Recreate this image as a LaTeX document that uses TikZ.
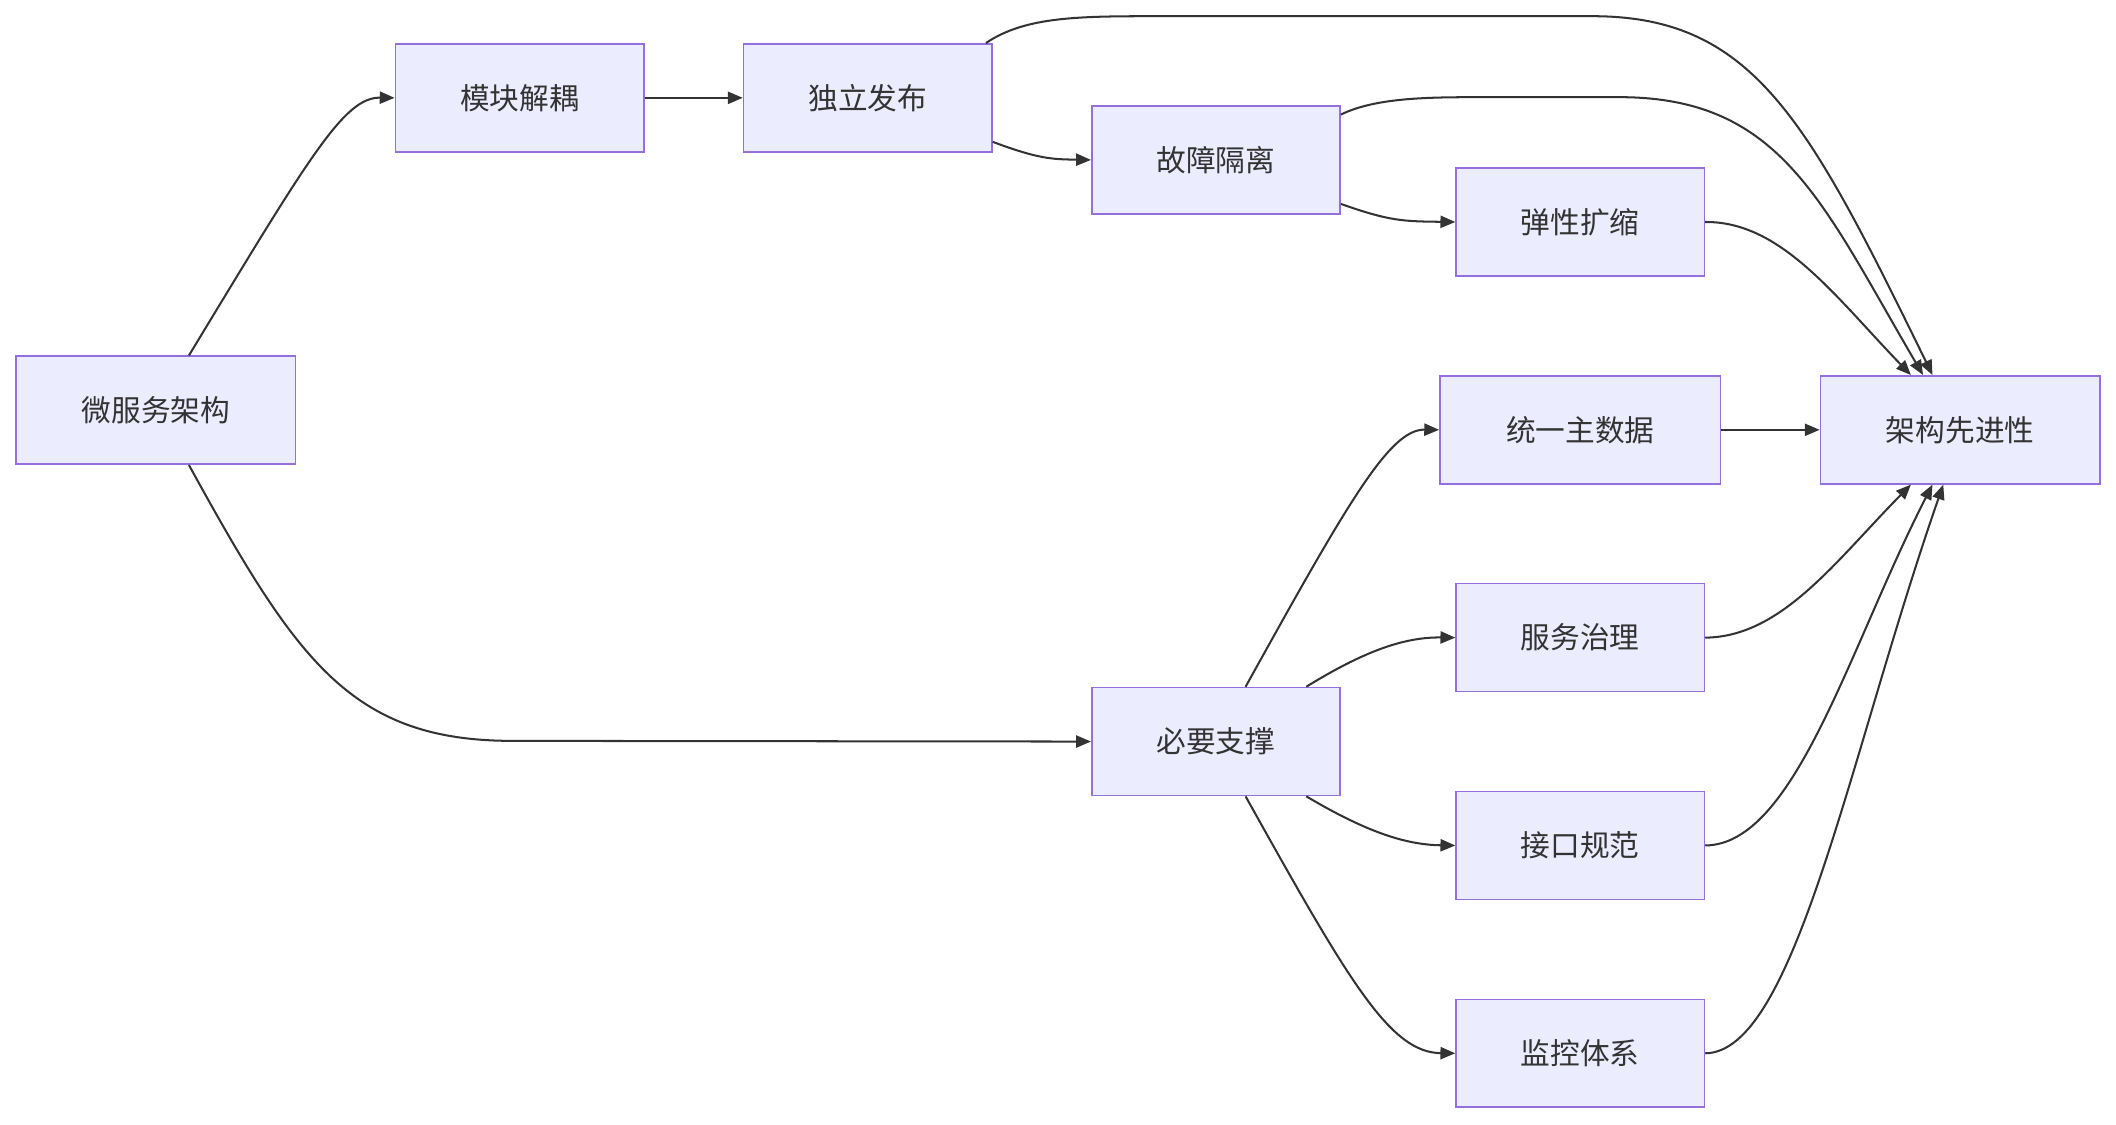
\documentclass[tikz,border=0pt]{standalone}
\usepackage{fontspec}
\setmainfont{Noto Sans CJK SC}
\usetikzlibrary{arrows.meta}
\definecolor{nf}{HTML}{ECECFF}
\definecolor{nd}{HTML}{9370DB}
\definecolor{ln}{HTML}{333333}
\begin{document}
\begin{tikzpicture}[x=1pt,y=-1pt,
 box/.style={draw=nd,fill=nf,line width=1.2pt,minimum height=80pt,inner sep=0pt,font=\fontsize{22}{26}\selectfont,text=ln},
 e/.style={draw=ln,line width=1.5pt,-{Triangle[length=11pt,width=9pt]}}]
\useasboundingbox (0,0) rectangle (1568,833);
\node[box,minimum width=207pt] (wf) at (115.5,304) {微服务架构};
\node[box,minimum width=184pt] (mk) at (385,72.5) {模块解耦};
\node[box,minimum width=184pt] (dl) at (643,72.5) {独立发布};
\node[box,minimum width=184pt] (gz) at (901,118.5) {故障隔离};
\node[box,minimum width=184pt] (tx) at (1171,164.5) {弹性扩缩};
\node[box,minimum width=208pt] (ty) at (1171,318.5) {统一主数据};
\node[box,minimum width=207pt] (jg) at (1452.5,318.5) {架构先进性};
\node[box,minimum width=184pt] (fw) at (1171,472.5) {服务治理};
\node[box,minimum width=184pt] (by) at (901,549.5) {必要支撑};
\node[box,minimum width=184pt] (jk) at (1171,626.5) {接口规范};
\node[box,minimum width=184pt] (jc) at (1171,780.5) {监控体系};

\draw[e] ([xshift=24.5]wf.north) .. controls (230,115) and (255,72) .. (mk.west);
\draw[e] ([xshift=24.5]wf.south) .. controls (220,490) and (260,549) .. (380,549) -- (by.west);
\draw[e] (mk) -- (dl);
\draw[e] ([yshift=8]dl.south east) .. controls (770,118) and (780,118) .. (gz.west);
\draw[e] ([xshift=-5]dl.north east) .. controls (760,12) and (800,12) .. (860,12) -- (1180,12) .. controls (1300,12) and (1340,90) .. ([xshift=-20.5]jg.north);
\draw[e] ([yshift=-7]gz.north east) .. controls (1020,72) and (1060,72) .. (1100,72) -- (1200,72) .. controls (1320,72) and (1350,150) .. ([xshift=-27.5]jg.north);
\draw[e] ([yshift=8]gz.south east) .. controls (1030,164) and (1040,164) .. (tx.west);
\draw[e] (tx.east) .. controls (1320,164) and (1360,220) .. ([xshift=-36.5]jg.north);
\draw[e] ([xshift=22]by.north) .. controls (1000,370) and (1030,318) .. (ty.west);
\draw[e] ([xshift=67]by.north) .. controls (1010,483) and (1040,472) .. (fw.west);
\draw[e] ([xshift=67]by.south) .. controls (1010,615) and (1040,626) .. (jk.west);
\draw[e] ([xshift=22]by.south) .. controls (1000,728) and (1030,780) .. (jc.west);
\draw[e] (ty) -- (jg);
\draw[e] (fw.east) .. controls (1320,472) and (1360,416) .. ([xshift=-36.5]jg.south);
\draw[e] (jk.east) .. controls (1330,626) and (1370,480) .. ([xshift=-20.5]jg.south);
\draw[e] (jc.east) .. controls (1330,780) and (1370,560) .. ([xshift=-12.5]jg.south);
\end{tikzpicture}
\end{document}
